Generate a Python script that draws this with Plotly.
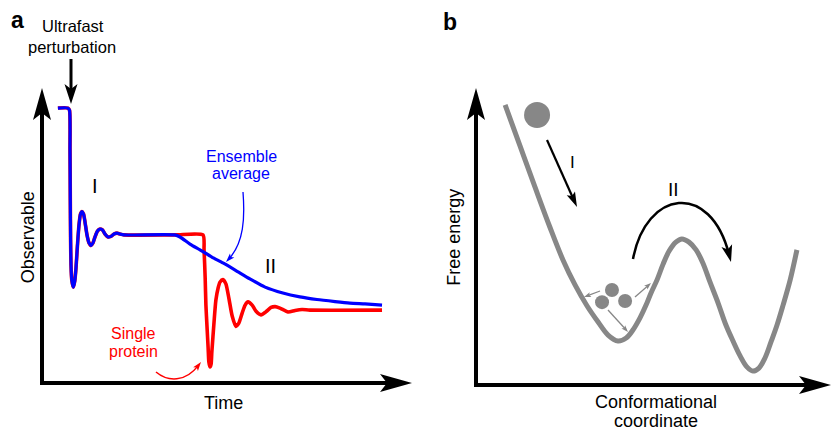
import math
import plotly.graph_objects as go

FIG_W, FIG_H = 833, 430
FONT = "Liberation Sans, Arial, Helvetica, sans-serif"
RED, BLUE, GRAY, BLACK = "#FF0000", "#0000FF", "#878787", "#000000"

# ---------------- Panel a: observable vs time (arbitrary units, axis tips at 100) ----------------
early_t = [4.3, 7.0, 7.43, 7.57, 7.65, 7.73, 7.84, 8.05, 8.46, 8.86,
           9.19, 9.59, 10.0, 10.41, 10.81, 11.22, 11.62, 12.16, 12.7, 13.24,
           13.78, 14.32, 15.0, 15.68, 16.35, 17.03, 17.84, 18.65, 19.46, 20.27,
           21.08, 22.16, 35.9]
early_obs = [93.2, 93.2, 92.5, 79.0, 62.0, 48.5, 40.0, 34.9, 32.5, 34.6,
             39.0, 46.8, 53.6, 57.3, 58.1, 57.3, 54.6, 50.2, 47.5, 46.6,
             47.5, 49.5, 51.5, 52.2, 51.9, 50.5, 49.5, 49.7, 50.5, 50.8,
             50.5, 50.2, 50.2]

red_tail_t = [43.5, 43.8, 44.1, 44.3, 44.6, 44.9, 45.1, 45.4, 45.7, 45.9,
              46.5, 47.0, 47.6, 48.1, 48.9, 49.7, 50.5, 51.4, 52.4, 53.2,
              54.1, 54.9, 55.7, 56.8, 57.8, 59.2, 60.5, 61.9, 63.0, 64.3,
              66.5, 68.4, 70.3, 72.4, 91.9]
red_tail_obs = [50.2, 45.1, 35.6, 26.4, 19.0, 11.9, 7.1, 5.4, 6.4, 10.5,
                20.7, 28.1, 32.2, 34.2, 35.1, 33.6, 28.8, 22.7, 19.2, 20.3,
                23.7, 26.4, 27.5, 26.4, 24.4, 23.1, 24.1, 25.6, 25.9, 25.4,
                24.1, 24.6, 24.9, 24.7, 24.7]

blue_tail_t = [37.3, 40.0, 42.7, 45.9, 48.9, 52.2, 56.2, 60.3, 65.1, 69.7,
               74.3, 79.2, 83.2, 87.3, 91.9]
blue_tail_obs = [49.5, 47.1, 45.1, 42.7, 40.7, 38.3, 35.3, 32.5, 30.5, 29.2,
                 28.3, 27.6, 27.1, 26.8, 26.4]

# ---------------- Panel b: free energy vs conformational coordinate ----------------
coord = [8.2, 12.4, 16.6, 20.8, 24.5, 27.9, 31.3, 34.4, 37.2, 40.0,
         42.3, 44.2, 46.2, 47.9, 49.3, 51.0, 52.7, 54.4, 56.3, 58.0,
         60.0, 62.0, 63.9, 65.9, 68.2, 70.4, 72.4, 74.4, 76.3, 78.0,
         79.7, 81.4, 83.1, 84.8, 86.5, 88.5, 90.4]
energy = [94.3, 80.5, 66.7, 53.2, 42.1, 33.7, 26.6, 21.2, 16.8, 14.8,
          15.8, 18.5, 22.6, 26.9, 31.0, 35.4, 40.7, 45.1, 48.1, 49.2,
          48.1, 45.5, 41.1, 34.7, 27.6, 20.2, 14.8, 9.8, 6.1, 4.7,
          5.7, 9.1, 14.5, 20.2, 26.9, 35.4, 45.5]

big_ball_coord = [17.2]
big_ball_energy = [90.9]
small_ball_coord = [38.3, 35.5, 42.0]
small_ball_energy = [32.0, 27.9, 28.3]

# ---------------- geometry (layout) ----------------
A_XR, A_YR = [-11.351, 101.216], [-15.932, 129.831]
B_XR, B_YR = [-16.761, 100.563], [-15.152, 129.630]
A_SX, A_SY = 3.7, 2.95
B_SX, B_SY = 3.55, 2.97

fig = go.Figure()
fig.add_trace(go.Scatter(x=early_t + red_tail_t, y=early_obs + red_tail_obs, mode="lines",
                         line=dict(color=RED, width=3.6, shape="spline", smoothing=0.6),
                         xaxis="x", yaxis="y", hoverinfo="skip"))
fig.add_trace(go.Scatter(x=early_t + blue_tail_t, y=early_obs + blue_tail_obs, mode="lines",
                         line=dict(color=BLUE, width=3.2, shape="spline", smoothing=0.6),
                         xaxis="x", yaxis="y", hoverinfo="skip"))
fig.add_trace(go.Scatter(x=coord, y=energy, mode="lines",
                         line=dict(color=GRAY, width=5, shape="spline", smoothing=1.0),
                         xaxis="x2", yaxis="y2", hoverinfo="skip"))
fig.add_trace(go.Scatter(x=big_ball_coord, y=big_ball_energy, mode="markers",
                         marker=dict(size=26, color=GRAY, line=dict(width=0)),
                         xaxis="x2", yaxis="y2", hoverinfo="skip"))
fig.add_trace(go.Scatter(x=small_ball_coord, y=small_ball_energy, mode="markers",
                         marker=dict(size=14, color=GRAY, line=dict(width=0)),
                         xaxis="x2", yaxis="y2", hoverinfo="skip"))

shapes = []


def head(xref, yref, ax, ay, dx, dy_up, L, Wd, notch, color):
    n = math.hypot(dx, dy_up)
    ux, uy = dx / n, dy_up / n
    qx, qy = -uy, ux
    pts = [(0, 0),
           (-L * ux + Wd / 2 * qx, -L * uy + Wd / 2 * qy),
           (-(L - notch) * ux, -(L - notch) * uy),
           (-L * ux - Wd / 2 * qx, -L * uy - Wd / 2 * qy)]
    path = "M " + " L ".join(f"{a:.2f},{b:.2f}" for a, b in pts) + " Z"
    shapes.append(dict(type="path", xref=xref, yref=yref, xsizemode="pixel", ysizemode="pixel",
                       xanchor=ax, yanchor=ay, path=path, fillcolor=color,
                       line=dict(width=0), layer="above"))


def axis_arrows(xr, yr, sx, sy, lw=4, L=32, Wd=18, notch=7):
    ext_x, ext_y = (lw / 2) / sx, (lw / 2) / sy
    d = 0.6 * (L - notch)
    shapes.append(dict(type="line", xref=xr, yref=yr, x0=0, y0=-ext_y, x1=0, y1=100 - d / sy,
                       line=dict(color=BLACK, width=lw), layer="above"))
    head(xr, yr, 0, 100, 0, 1, L, Wd, notch, BLACK)
    shapes.append(dict(type="line", xref=xr, yref=yr, x0=-ext_x, y0=0, x1=100 - d / sx, y1=0,
                       line=dict(color=BLACK, width=lw), layer="above"))
    head(xr, yr, 100, 0, 1, 0, L, Wd, notch, BLACK)


def P(px, py):
    return px / FIG_W, 1 - py / FIG_H


def straight_arrow(tail, tip, lw, L, Wd, notch, color):
    dx, dy = tip[0] - tail[0], tip[1] - tail[1]
    n = math.hypot(dx, dy)
    d = 0.6 * (L - notch)
    end = (tip[0] - dx / n * d, tip[1] - dy / n * d)
    x0, y0 = P(*tail)
    x1, y1 = P(*end)
    shapes.append(dict(type="line", xref="paper", yref="paper", x0=x0, y0=y0, x1=x1, y1=y1,
                       line=dict(color=color, width=lw), layer="above"))
    ax, ay = P(*tip)
    head("paper", "paper", ax, ay, dx, -dy, L, Wd, notch, color)


def curved_arrow(p0, c1, c2, p3, lw, L, Wd, notch, color):
    dx, dy = p3[0] - c2[0], p3[1] - c2[1]
    n = math.hypot(dx, dy)
    d = 0.6 * (L - notch)
    sx, sy = dx / n * d, dy / n * d
    e = (p3[0] - sx, p3[1] - sy)
    c2b = (c2[0] - sx, c2[1] - sy)
    pts = [P(*p) for p in (p0, c1, c2b, e)]
    path = "M {:.5f},{:.5f} C {:.5f},{:.5f} {:.5f},{:.5f} {:.5f},{:.5f}".format(
        *[v for p in pts for v in p])
    shapes.append(dict(type="path", xref="paper", yref="paper", path=path,
                       line=dict(color=color, width=lw), fillcolor="rgba(0,0,0,0)", layer="above"))
    ax, ay = P(*p3)
    head("paper", "paper", ax, ay, dx, -dy, L, Wd, notch, color)


axis_arrows("x", "y", A_SX, A_SY)
axis_arrows("x2", "y2", B_SX, B_SY)

straight_arrow((71, 59), (71, 104), 3, 20, 13, 5, BLACK)            # ultrafast perturbation
straight_arrow((547, 140), (577, 207), 2.2, 15, 9, 3, BLACK)        # I (panel b)
straight_arrow((600, 291), (584, 297), 1.3, 7, 5, 1.5, GRAY)
straight_arrow((635, 297), (651, 283), 1.3, 7, 5, 1.5, GRAY)
straight_arrow((608, 310), (628, 332), 1.3, 7, 5, 1.5, GRAY)
curved_arrow((633, 259), (646, 190), (712, 188), (731, 262), 2.5, 17, 11, 4, BLACK)
curved_arrow((243, 192), (245, 218), (241, 246), (226, 262), 1.3, 9, 6, 2, BLUE)
curved_arrow((156, 372), (168, 382), (188, 379), (201, 362), 1.5, 9, 6, 2, RED)

labels = [
    ("<b>a</b>", 17.5, 20, 23, BLACK, 0),
    ("<b>b</b>", 450, 22, 23, BLACK, 0),
    ("Ultrafast", 72.5, 26, 16.5, BLACK, 0),
    ("perturbation", 72, 47.2, 16.5, BLACK, 0),
    ("Ensemble", 241.5, 156.6, 16, BLUE, 0),
    ("average", 240.5, 173.2, 16, BLUE, 0),
    ("Single", 133.5, 333.8, 16, RED, 0),
    ("protein", 133, 351.4, 16, RED, 0),
    ("Time", 223, 402.7, 18, BLACK, 0),
    ("Observable", 27.7, 237.5, 18, BLACK, -90),
    ("I", 95, 186, 20, BLACK, 0),
    ("II", 270.5, 266, 20, BLACK, 0),
    ("Free energy", 453.7, 237, 18, BLACK, -90),
    ("Conformational", 655.5, 402.0, 18, BLACK, 0),
    ("coordinate", 655.5, 420.5, 18, BLACK, 0),
    ("I", 572, 162, 17, BLACK, 0),
    ("II", 673, 189.4, 19, BLACK, 0),
]
annotations = []
for text, px, py, size, color, ang in labels:
    x, y = P(px, py)
    annotations.append(dict(text=text, x=x, y=y, xref="paper", yref="paper",
                            xanchor="center", yanchor="middle", showarrow=False,
                            borderpad=0, textangle=ang,
                            font=dict(family=FONT, size=size, color=color)))

fig.update_layout(
    width=FIG_W, height=FIG_H, margin=dict(l=0, r=0, t=0, b=0),
    paper_bgcolor="white", plot_bgcolor="white", showlegend=False,
    font=dict(family=FONT),
    xaxis=dict(domain=[0.0, 0.5], range=A_XR, visible=False, anchor="y"),
    yaxis=dict(domain=[0.0, 1.0], range=A_YR, visible=False, anchor="x"),
    xaxis2=dict(domain=[0.5, 1.0], range=B_XR, visible=False, anchor="y2"),
    yaxis2=dict(domain=[0.0, 1.0], range=B_YR, visible=False, anchor="x2"),
    shapes=shapes, annotations=annotations,
)

fig.write_html(
    "out.html",
    config={"displayModeBar": False},
    post_script="document.body.style.margin='0';document.body.style.padding='0';"
                "document.body.style.overflow='hidden';",
)
